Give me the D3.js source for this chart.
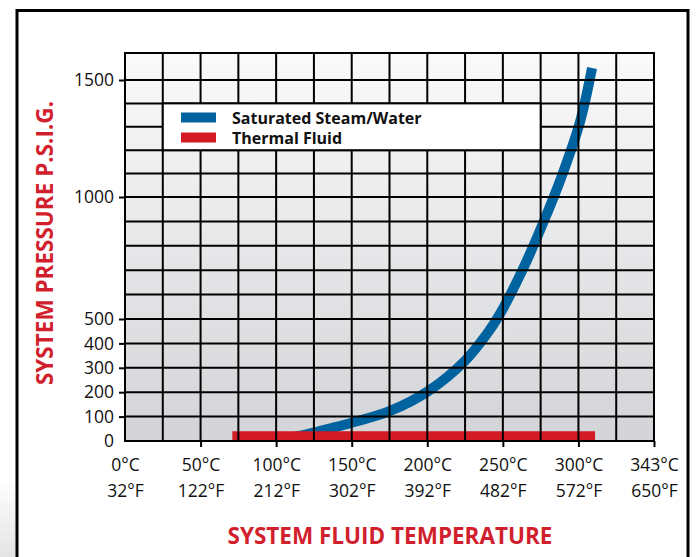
<!DOCTYPE html>
<html>
<head>
<meta charset="utf-8">
<script src="https://cdn.jsdelivr.net/npm/d3@7"></script>
<style>
  body { margin: 0; background: #fff; }
  svg { display: block; }
  text { font-family: "Open Sans", "Noto Sans", sans-serif; }
</style>
</head>
<body>
<div id="chart"></div>
<script>
// temperature ticks (deg C position) and their labels
const tempTicks = [0, 50, 100, 150, 200, 250, 300, 350];
const celsiusLabels = ["0°C", "50°C", "100°C", "150°C", "200°C", "250°C", "300°C", "343°C"];
const fahrenheitLabels = ["32°F", "122°F", "212°F", "302°F", "392°F", "482°F", "572°F", "650°F"];
const pressureTicks = [0, 100, 200, 300, 400, 500, 1000, 1500];

// saturated steam / water curve (deg C, psig)
const steamTemp = [95, 110, 122, 136, 150, 175, 201, 225, 239, 248, 263, 277, 289, 301, 309];
const steamPsig = [4, 15, 30, 52, 75, 122, 206, 329, 435, 520, 701, 899, 1090, 1320, 1551];

// thermal fluid band
const fluidTemp = [71, 311];
const fluidPsig = [0, 40];

const legendItems = [
  { name: "Saturated Steam/Water", color: "#00629e" },
  { name: "Thermal Fluid", color: "#d21b25" }
];

const W = 696, H = 557;
const svg = d3.select("#chart").append("svg")
  .attr("width", W).attr("height", H);

const defs = svg.append("defs");
const grad = defs.append("linearGradient").attr("id", "bg")
  .attr("x1", 0).attr("y1", 0).attr("x2", 0).attr("y2", 1);
grad.append("stop").attr("offset", "0%").attr("stop-color", "#fafafa");
grad.append("stop").attr("offset", "100%").attr("stop-color", "#d3d4d7");

const side = defs.append("linearGradient").attr("id", "side")
  .attr("x1", 0).attr("y1", 0).attr("x2", 0).attr("y2", 1);
side.append("stop").attr("offset", "0%").attr("stop-color", "#ffffff");
side.append("stop").attr("offset", "100%").attr("stop-color", "#e4e4e4");

// little grey bit outside the frame, bottom left
svg.append("rect").attr("x", 0).attr("y", 480).attr("width", 16).attr("height", 77)
  .attr("fill", "url(#side)");

// outer frame
svg.append("rect")
  .attr("x", 17).attr("y", 10.5).attr("width", 671).attr("height", 600)
  .attr("fill", "#fff").attr("stroke", "#000").attr("stroke-width", 3);

const x = d3.scaleLinear().domain([0, 350]).range([125, 654]);
// the picture's pressure axis is not quite uniform, so map it piece by piece
const y = d3.scaleLinear().domain([0, 500, 1000, 1500, 1615]).range([441, 319, 197, 80, 53]);

defs.append("clipPath").attr("id", "plotclip").append("rect")
  .attr("x", x(0)).attr("y", y(1615)).attr("width", x(350) - x(0)).attr("height", y(0) - y(1615));

svg.append("rect")
  .attr("x", x(0)).attr("y", y(1615))
  .attr("width", x(350) - x(0)).attr("height", y(0) - y(1615))
  .attr("fill", "url(#bg)");

const plot = svg.append("g").attr("clip-path", "url(#plotclip)");

// steam curve
const line = d3.line()
  .x((d, i) => x(steamTemp[i]))
  .y(d => y(d))
  .curve(d3.curveCatmullRom.alpha(0.5));
plot.append("path")
  .datum(steamPsig)
  .attr("d", line)
  .attr("fill", "none")
  .attr("stroke", legendItems[0].color)
  .attr("stroke-width", 10);

// thermal fluid band
plot.append("rect")
  .attr("x", x(fluidTemp[0])).attr("y", y(fluidPsig[1]))
  .attr("width", x(fluidTemp[1]) - x(fluidTemp[0]))
  .attr("height", y(fluidPsig[0]) - y(fluidPsig[1]))
  .attr("fill", legendItems[1].color);

// grid
const grid = svg.append("g").attr("stroke", "#000").attr("stroke-width", 2);
grid.selectAll("line.v")
  .data(d3.range(0, 351, 25))
  .enter().append("line")
  .attr("x1", d => x(d)).attr("x2", d => x(d))
  .attr("y1", y(1615)).attr("y2", y(0));
grid.selectAll("line.h")
  .data(d3.range(0, 1501, 100).concat([1615]))
  .enter().append("line")
  .attr("x1", x(0) - 1).attr("x2", x(350) + 1)
  .attr("y1", d => y(d)).attr("y2", d => y(d));

// y axis ticks + labels
const yAxis = d3.axisLeft(y).tickValues(pressureTicks).tickSize(6).tickPadding(5)
  .tickFormat(d3.format("d"));
const ya = svg.append("g").attr("transform", "translate(" + x(0) + ",0)").call(yAxis);
ya.select(".domain").remove();
ya.selectAll(".tick line").attr("stroke", "#000").attr("stroke-width", 2)
  .attr("opacity", d => d === 0 ? 0 : 1);
ya.selectAll(".tick text")
  .attr("font-size", 17.5).attr("fill", "#111")
  .style("font-family", "'Open Sans', sans-serif");

// x axis ticks + two rows of labels
const xAxis = d3.axisBottom(x).tickValues(tempTicks).tickSize(6).tickFormat("");
const xa = svg.append("g").attr("transform", "translate(0," + y(0) + ")").call(xAxis);
xa.select(".domain").remove();
xa.selectAll(".tick line").attr("stroke", "#000").attr("stroke-width", 2)
  .attr("opacity", d => d === 0 ? 0 : 1);
xa.selectAll(".tick").append("text")
  .attr("y", 30).attr("text-anchor", "middle")
  .attr("font-size", 17.5).attr("fill", "#111")
  .text((d, i) => celsiusLabels[i]);
xa.selectAll(".tick").append("text")
  .attr("y", 56).attr("text-anchor", "middle")
  .attr("font-size", 17.5).attr("fill", "#111")
  .text((d, i) => fahrenheitLabels[i]);

// legend box sits over grid cells
const lg = svg.append("g");
lg.append("rect")
  .attr("x", x(25)).attr("y", y(1400))
  .attr("width", x(275) - x(25)).attr("height", y(1200) - y(1400))
  .attr("fill", "#fff").attr("stroke", "#000").attr("stroke-width", 2);
legendItems.forEach((d, i) => {
  const yy = 112.5 + i * 20;
  lg.append("rect").attr("x", 181).attr("y", yy).attr("width", 35).attr("height", 10)
    .attr("fill", d.color);
  lg.append("text").attr("x", 232).attr("y", yy + 11)
    .attr("font-size", 16).attr("font-weight", 700).attr("fill", "#111")
    .text(d.name);
});

// axis titles
svg.append("text")
  .attr("transform", "translate(53,243) rotate(-90)")
  .attr("text-anchor", "middle")
  .attr("font-size", 22.5).attr("font-weight", 700).attr("fill", "#d21f2d")
  .text("SYSTEM PRESSURE P.S.I.G.");
svg.append("text")
  .attr("x", 390).attr("y", 544)
  .attr("text-anchor", "middle")
  .attr("font-size", 22.5).attr("font-weight", 700).attr("fill", "#d21f2d")
  .text("SYSTEM FLUID TEMPERATURE");
</script>
</body>
</html>
